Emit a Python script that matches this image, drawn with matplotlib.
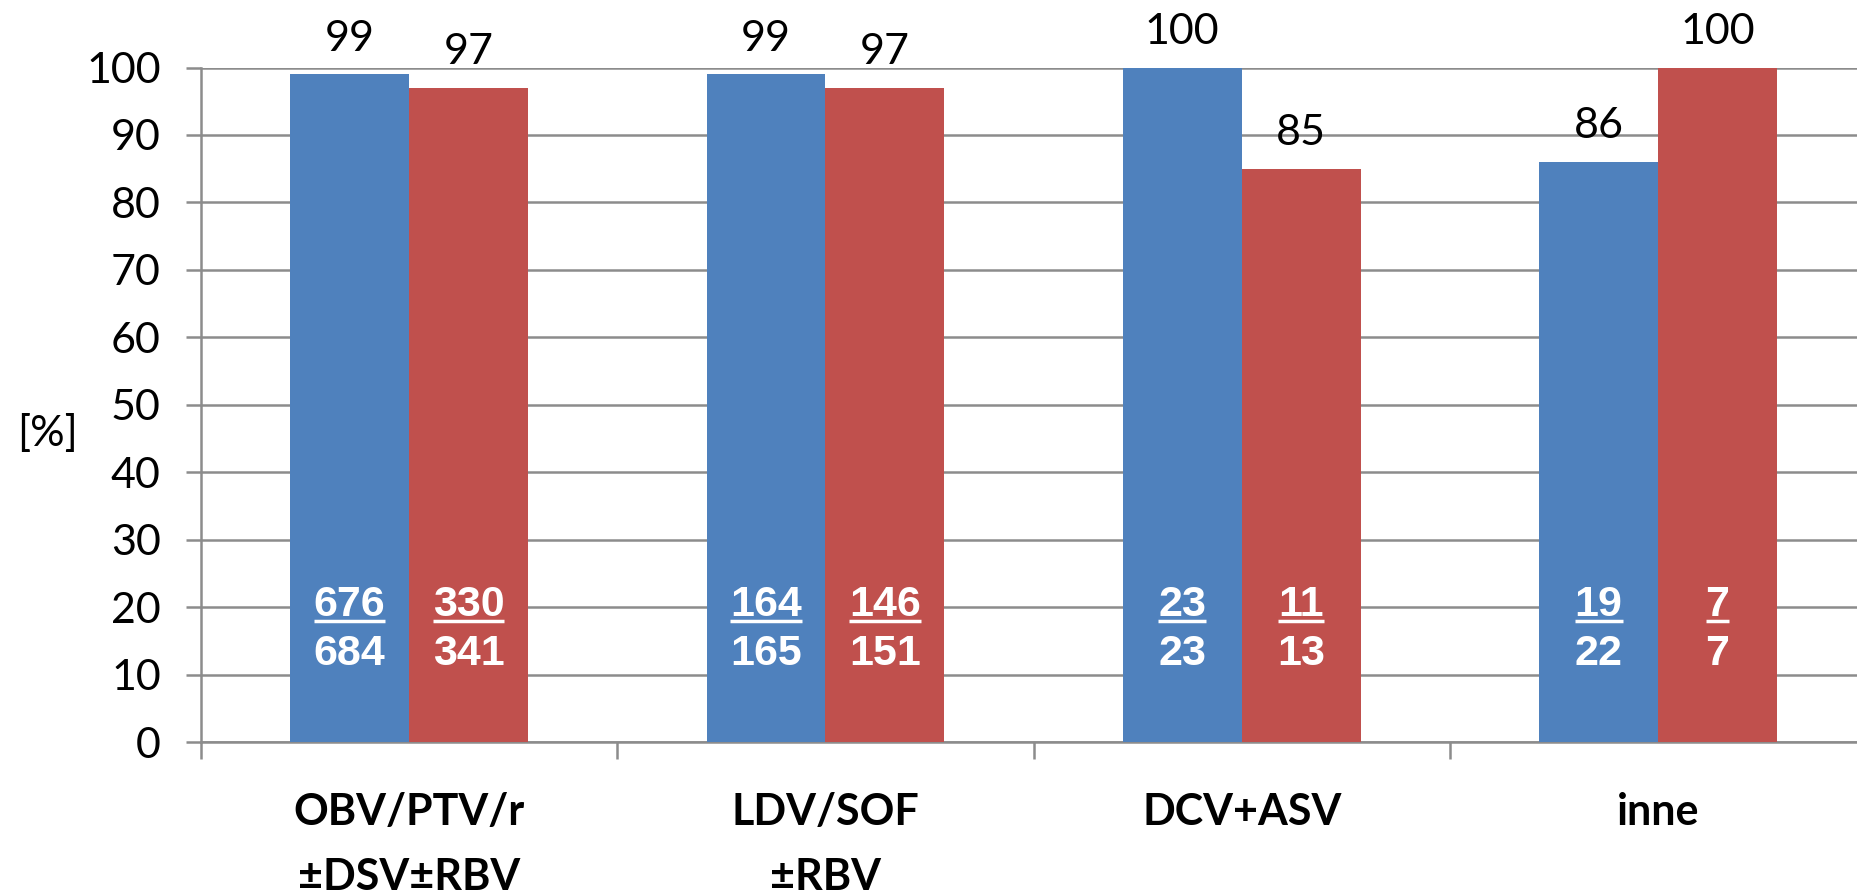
import matplotlib
matplotlib.use("Agg")
import matplotlib.pyplot as plt
import numpy as np

# data
categories = ["OBV/PTV/r\n±DSV±RBV", "LDV/SOF\n±RBV", "DCV+ASV", "inne"]
blue_pct = [99, 99, 100, 86]
red_pct = [97, 97, 85, 100]
blue_num = [676, 164, 23, 19]
blue_den = [684, 165, 23, 22]
red_num = [330, 146, 11, 7]
red_den = [341, 151, 13, 7]

BLUE = "#4F81BD"
RED = "#C0504D"
GRID = "#8C8C8C"

plt.rcParams['font.family'] = ['Lato', 'DejaVu Sans']

fig = plt.figure(figsize=(18.57, 8.93), dpi=100)
ax = fig.add_axes([201 / 1857, 1 - 742 / 893, 1 - 201 / 1857, (742 - 67.5) / 893])

x = np.arange(len(categories))
w = 1 / 3.5
b1 = ax.bar(x - w / 2, blue_pct, w, color=BLUE, zorder=3)
b2 = ax.bar(x + w / 2, red_pct, w, color=RED, zorder=3)

ax.set_ylim(0, 100)
ax.set_xlim(-0.5, -0.5 + (1857 - 201) / 416.3)
ax.set_yticks(np.arange(0, 101, 10))
ax.yaxis.grid(True, color=GRID, linewidth=1.8, zorder=0)
ax.tick_params(axis='y', length=11, width=1.8, color=GRID, labelsize=31, pad=18)

for s in ["top", "right"]:
    ax.spines[s].set_visible(False)
for s in ["left", "bottom"]:
    ax.spines[s].set_color(GRID)
    ax.spines[s].set_linewidth(1.8)

# category boundary ticks (major) and labels (minor)
ax.set_xticks(np.arange(-0.5, len(categories) - 0.5, 1))
ax.set_xticklabels([])
ax.tick_params(axis='x', which='major', length=12, width=1.8, color=GRID)
ax.set_xticks(x, minor=True)
ax.set_xticklabels(categories, minor=True, fontsize=31, fontweight='bold', linespacing=1.77)
ax.tick_params(axis='x', which='minor', length=0, pad=36)

ax.text(-0.0924, 0.457, "[%]", transform=ax.transAxes, ha='center', va='center', fontsize=31)

# values on top
for bars, vals in ((b1, blue_pct), (b2, red_pct)):
    for rect, v in zip(bars, vals):
        ax.annotate(str(v), (rect.get_x() + rect.get_width() / 2, v),
                    xytext=(0, 12), textcoords='offset points',
                    ha='center', va='bottom', fontsize=31, annotation_clip=False)

# white fractions in the bars
fig.canvas.draw()
renderer = fig.canvas.get_renderer()
inv = ax.transData.inverted()
for bars, nums, dens in ((b1, blue_num, blue_den), (b2, red_num, red_den)):
    for rect, n, d in zip(bars, nums, dens):
        cx = rect.get_x() + rect.get_width() / 2
        t = ax.text(cx, 20.3, str(n), ha='center', va='center', color='white',
                    fontsize=31, fontweight='bold', family='Liberation Sans', zorder=5)
        ax.text(cx, 13.0, str(d), ha='center', va='center', color='white',
                fontsize=31, fontweight='bold', family='Liberation Sans', zorder=5)
        bb = t.get_window_extent(renderer)
        (x0, _), (x1, _) = inv.transform([(bb.x0, 0), (bb.x1, 0)])
        ax.plot([x0, x1], [17.9, 17.9], color='white', linewidth=2.5, zorder=5,
                solid_capstyle='butt')

fig.savefig("out.png", dpi=100)
